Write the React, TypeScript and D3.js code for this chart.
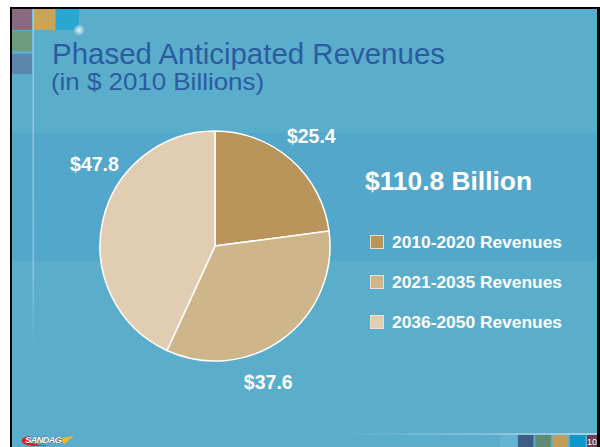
import * as React from "react"
import * as d3 from "d3"

// chart data
const periods = ["2010-2020 Revenues", "2021-2035 Revenues", "2036-2050 Revenues"]
const revenues = [25.4, 37.6, 47.8]
const totalLabel = "$110.8 Billion"
const sliceColors = ["#B9955C", "#CFB58A", "#E1CDB1"]
// label angle tweaks (degrees) so labels sit where the slide put them
const labelNudge = [0, 15, 22]

const W = 600
const H = 447
const font = "'Liberation Sans', Arial, Helvetica, sans-serif"

const Logo = () => (
    <g>
        <path d="M30,436 C18,437 19,446 34,446 L60,445 C40,446 24,444 30,436 Z" fill="#D8261C" />
        <polygon points="57,439 74,436 64,444 62,441" fill="#F5B81F" />
        <text x={25} y={443} fontSize={9.5} fontWeight="bold" fontStyle="italic" fill="white"
            stroke="#1d2f55" strokeWidth={0.5} paintOrder="stroke" textLength={37} fontFamily={font}>
            SANDAG
        </text>
    </g>
)

export default function App() {
    const [cx, cy, r, labelR] = [215, 246, 115, 146]

    const pie = d3.pie<number>().sort(null).value(d => d)
    const arcs = pie(revenues)
    const arc = d3.arc<d3.PieArcDatum<number>>().innerRadius(0).outerRadius(r)

    const slices = arcs.map((a, i) => (
        <path key={i} d={arc(a) ?? ""} fill={sliceColors[i]} stroke="white" strokeWidth={1.5} />
    ))

    const labels = arcs.map((a, i) => {
        const ang = (a.startAngle + a.endAngle) / 2 + (labelNudge[i] * Math.PI) / 180
        const x = Math.sin(ang) * labelR
        const y = -Math.cos(ang) * labelR
        return (
            <text key={i} x={x} y={y + 7} textAnchor="middle" fontSize={19.5} fontWeight="bold" fill="white" fontFamily={font}>
                ${revenues[i].toFixed(1)}
            </text>
        )
    })

    const legendY = d3.scaleBand().domain(periods).range([222, 342]).paddingInner(0)

    const legend = periods.map((p, i) => {
        const y = (legendY(p) ?? 0) + legendY.bandwidth() / 2
        return (
            <g key={p} transform={`translate(370,${y})`}>
                <rect x={0.5} y={-6.5} width={13} height={13} fill={sliceColors[i]} stroke="#EBDDC6" strokeWidth={1} />
                <text x={22} y={5.8} fontSize={16.5} fontWeight="bold" fill="white" textLength={170}
                    lengthAdjust="spacingAndGlyphs" fontFamily={font}>
                    {p}
                </text>
            </g>
        )
    })

    const footSquares = ["#3E5E86", "#5E8C72", "#C29D5A", "#0E96C8"]

    return (
        <svg width={W} height={H} style={{ position: "fixed", left: 0, top: 0, display: "block" }}>
            <defs>
                <linearGradient id="vline" x1="0" y1="0" x2="0" y2="1">
                    <stop offset="0%" stopColor="white" stopOpacity={0.35} />
                    <stop offset="75%" stopColor="white" stopOpacity={0.3} />
                    <stop offset="100%" stopColor="white" stopOpacity={0} />
                </linearGradient>
                <linearGradient id="hline" x1="0" y1="0" x2="1" y2="0">
                    <stop offset="0%" stopColor="white" stopOpacity={0} />
                    <stop offset="100%" stopColor="white" stopOpacity={0.45} />
                </linearGradient>
                <radialGradient id="glow">
                    <stop offset="0%" stopColor="white" stopOpacity={0.9} />
                    <stop offset="100%" stopColor="white" stopOpacity={0} />
                </radialGradient>
            </defs>
            <rect x={0} y={0} width={W} height={H} fill="white" />
            <rect x={10} y={7} width={590} height={440} fill="black" />
            <rect x={12} y={9} width={585} height={438} fill="#5BADCC" />
            <rect x={12} y={133} width={585} height={128} fill="#53A7CA" />

            {/* corner tiles */}
            <rect x={12} y={9} width={20} height={21} fill="#8A6A7E" />
            <rect x={33} y={9} width={22} height={21} fill="#C9A555" />
            <rect x={56} y={9} width={23} height={21} fill="#2AA7D0" />
            <rect x={12} y={31} width={20} height={20} fill="#6E9C7F" />
            <rect x={12} y={54} width={20} height={20} fill="#5D86AF" />
            <circle cx={79} cy={30} r={6} fill="url(#glow)" />
            <rect x={32.5} y={9} width={1.5} height={340} fill="url(#vline)" />

            <text x={52} y={64} fontSize={30} fill="#2B5C9F" textLength={393} lengthAdjust="spacingAndGlyphs"
                fontFamily={font}>Phased Anticipated Revenues</text>
            <text x={51} y={90} fontSize={24} fill="#2B5C9F" textLength={213} lengthAdjust="spacingAndGlyphs"
                fontFamily={font}>(in $ 2010 Billions)</text>

            <g transform={`translate(${cx},${cy})`}>
                {slices}
                {labels}
            </g>

            <text x={365} y={190} fontSize={25.5} fontWeight="bold" fill="white" textLength={167}
                lengthAdjust="spacingAndGlyphs" fontFamily={font}>{totalLabel}</text>
            {legend}

            {/* footer */}
            <rect x={337} y={433} width={260} height={2} fill="url(#hline)" />
            <rect x={500} y={435} width={17} height={12} fill="#63B4D2" />
            {footSquares.map((c, i) => (
                <rect key={c} x={518 + i * 17.3} y={435} width={15.5} height={12} fill={c} />
            ))}
            <rect x={587} y={435} width={10} height={12} fill="#6E4050" />
            <text x={592} y={445} fontSize={9} fill="white" textAnchor="middle" fontFamily={font}>10</text>
            <Logo />
        </svg>
    )
}
